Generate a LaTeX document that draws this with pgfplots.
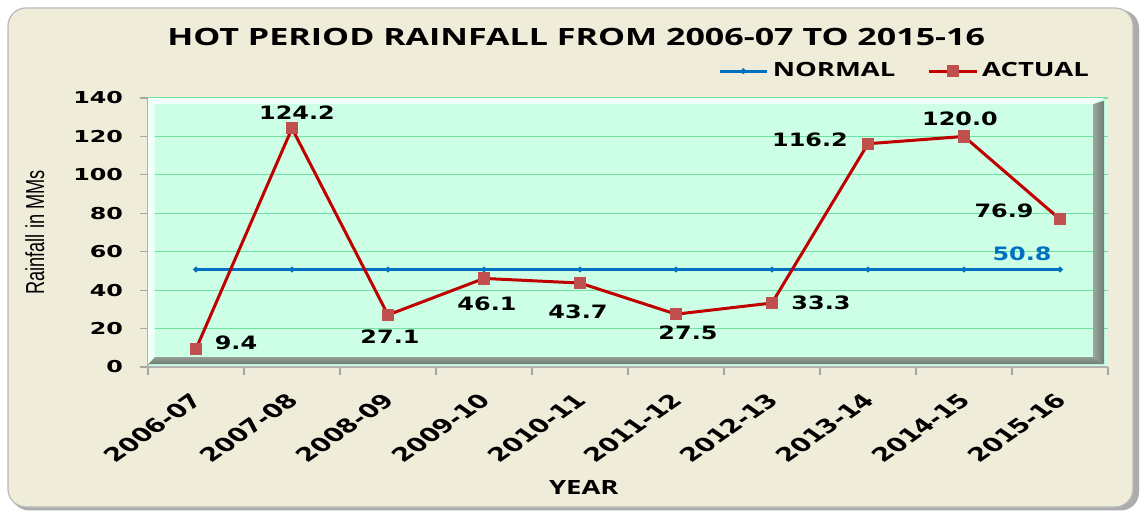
\documentclass[border=0pt]{standalone}
\usepackage{pgfplots}
\pgfplotsset{compat=1.18}
\usepackage{pgfplotstable}
\usepackage{fontspec}
\setmainfont{DejaVu Sans}
\newfontfamily\tfont[FakeStretch=1.43]{Open Sans}
\newfontfamily\lgfont[FakeStretch=1.4]{Open Sans}
\newfontfamily\tkfont[FakeStretch=1.45]{DejaVu Sans}
\newfontfamily\dlfont[FakeStretch=1.3]{DejaVu Sans}
\newfontfamily\xtfont{DejaVu Sans}
\newfontfamily\ylfont[FakeStretch=0.7]{Liberation Sans}

\definecolor{beige}{RGB}{240,236,218}
\definecolor{mint}{RGB}{204,255,229}
\definecolor{gridg}{RGB}{110,226,160}
\definecolor{nblue}{RGB}{0,112,192}
\definecolor{ared}{RGB}{192,0,0}
\definecolor{mred}{RGB}{192,80,77}
\definecolor{shadowc}{RGB}{110,125,115}

\pgfplotstableread{
x y lab dx dy
0 9.4 9.4 20 3
1 124.2 124.2 2.5 8
2 27.1 27.1 1 -11
3 46.1 46.1 1.5 -12.5
4 43.7 43.7 -1 -14.5
5 27.5 27.5 6 -9.5
6 33.3 33.3 24.5 0
7 116.2 116.2 -29 2
8 120.0 120.0 -2 9
9 76.9 76.9 -28 4
}\actual

\pgfplotstableread{
x y
0 50.8
1 50.8
2 50.8
3 50.8
4 50.8
5 50.8
6 50.8
7 50.8
8 50.8
9 50.8
}\normal

\begin{document}
\begin{tikzpicture}
\path[use as bounding box, fill=white] (0,0) rectangle (571.5pt,255.5pt);
\fill[gray!65, rounded corners=9pt] (5.5pt,0.3pt) rectangle (569.5pt,250.5pt);
\fill[beige, draw=gray!55, line width=0.6pt, rounded corners=9pt] (4pt,2pt) rectangle (566.5pt,251.5pt);
\begin{axis}[
  at={(74pt,72pt)}, anchor=south west,
  scale only axis, width=480pt, height=134.5pt,
  xmin=-0.5, xmax=9.5, ymin=0, ymax=140,
  axis background/.style={fill=mint},
  xtick={-0.5,0.5,...,9.5},
  x tick label as interval,
  xticklabels={2006-07,2007-08,2008-09,2009-10,2010-11,2011-12,2012-13,2013-14,2014-15,2015-16},
  ytick={0,20,...,140},
  ymajorgrids, grid style={gridg, line width=0.6pt},
  axis x line*=bottom, axis y line*=left,
  axis line style={gray!60, line width=0.6pt},
  tick style={gray!70, line width=0.6pt},
  tick align=outside, major tick length=4pt,
  /pgf/number format/assume math mode=true,
  y tick label style={font=\tkfont\bfseries\fontsize{8.2}{10}\selectfont, xshift=-5pt},
  x tick label style={font=\xtfont\bfseries\fontsize{9.5}{10}\selectfont, xscale=1.43, rotate=45, anchor=east, xshift=-4pt, yshift=-8pt},
  ylabel={\ylfont\fontsize{13}{14}\selectfont Rainfall in MMs},
  ylabel style={at={(axis description cs:-0.118,0.5)}, anchor=center},
  xlabel={\lgfont\bfseries\fontsize{9.8}{11}\selectfont YEAR},
  xlabel style={at={(axis description cs:0.454,-0.446)}, anchor=center},
  every axis title shift=0pt,
  title={\tfont\bfseries\fontsize{11.9}{13}\selectfont HOT PERIOD RAINFALL FROM 2006-07 TO 2015-16},
  title style={at={(axis description cs:0.446,1.227)}, anchor=center},
  legend style={draw=none, fill=none, at={(axis description cs:0.789,1.1)}, anchor=center,
    font=\lgfont\bfseries\fontsize{9.8}{11}\selectfont,
    /tikz/every even column/.append style={column sep=14pt}},
  legend columns=2,
  legend image code/.code={\draw[mark repeat=2,mark phase=2] plot coordinates {(0cm,0cm) (0.42cm,0cm) (0.84cm,0cm)};},
  clip=false,
]
% bevel of the plot panel
\shade[left color=shadowc!70, right color=shadowc] (axis description cs:0.985,0.037) -- (axis description cs:0.996,0.011) -- (axis description cs:0.996,0.99) -- (axis description cs:0.985,0.978) -- cycle;
\shade[top color=shadowc!75, bottom color=shadowc] (axis description cs:0.007,0.037) -- (axis description cs:0.985,0.037) -- (axis description cs:0.996,0.011) -- (axis description cs:0.0,0.011) -- cycle;
\fill[white!70!mint] (axis description cs:0,1) -- (axis description cs:0.996,1) -- (axis description cs:0.985,0.978) -- (axis description cs:0.007,0.978) -- (axis description cs:0.007,0.037) -- (axis description cs:0,0.011) -- cycle;

\addplot[nblue, line width=1.5pt, mark=*, mark size=0.5pt, mark options={fill=nblue!30!white, draw=none}]
  table[x=x, y=y] \normal
  node[pos=1, anchor=center, xshift=-19pt, yshift=8pt, text=nblue, font=\dlfont\bfseries\fontsize{9.2}{10}\selectfont] {50.8};
\addlegendentry{NORMAL}
\addplot[ared, line width=1.5pt, mark=square*, mark size=2.3pt, mark options={fill=mred, draw=mred},
  nodes near coords, point meta=explicit symbolic,
  visualization depends on={\thisrow{dx} \as \dx},
  visualization depends on={\thisrow{dy} \as \dy},
  every node near coord/.append style={anchor=center, xshift=\dx pt, yshift=\dy pt, text=black,
    font=\dlfont\bfseries\fontsize{9.2}{10}\selectfont}]
  table[x=x, y=y, meta=lab] \actual;
\addlegendentry{ACTUAL}
\end{axis}
\end{tikzpicture}
\end{document}
